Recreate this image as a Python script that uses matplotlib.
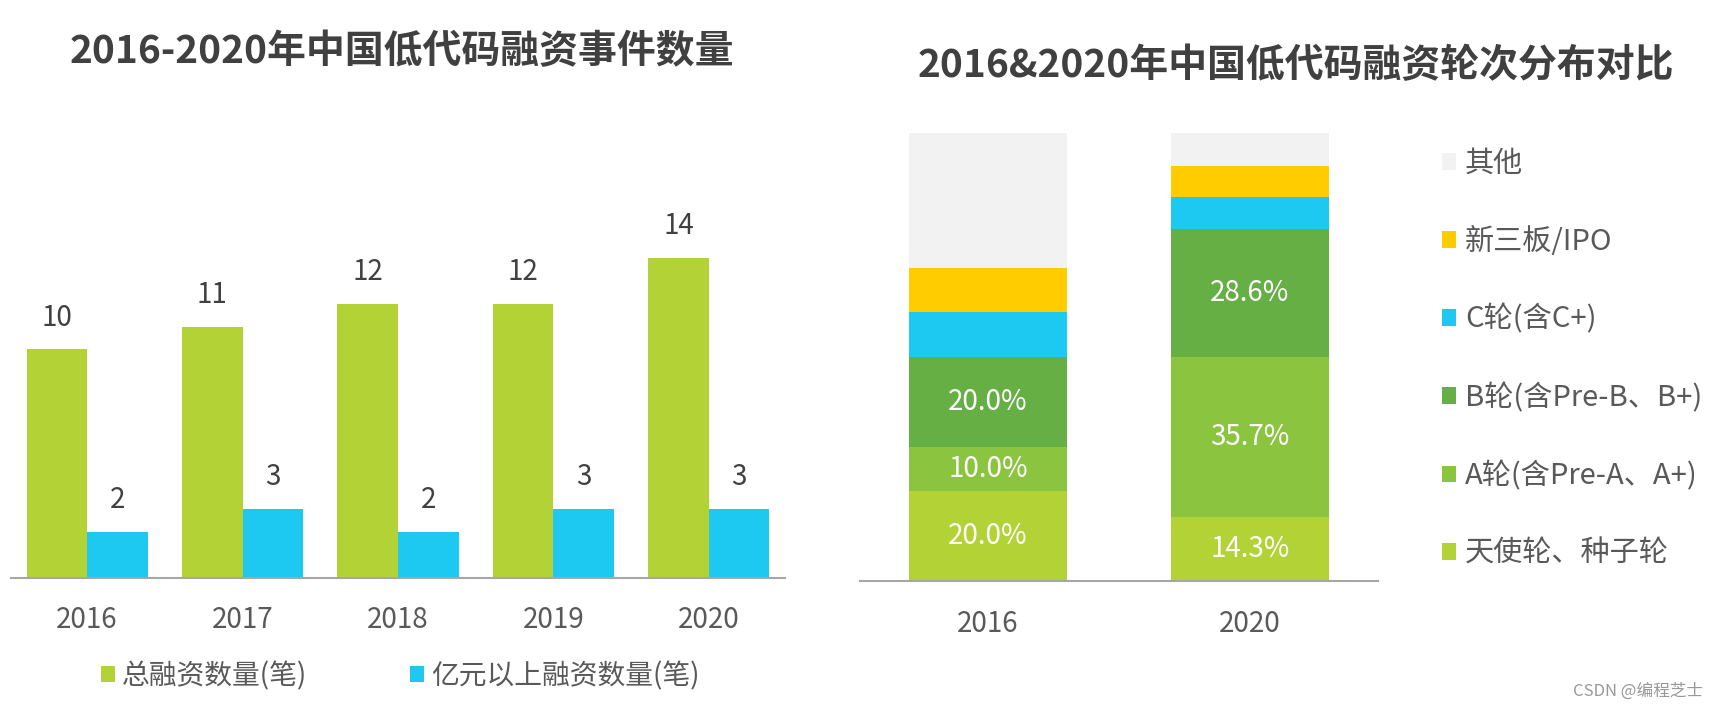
import matplotlib
matplotlib.use("Agg")
import matplotlib.pyplot as plt
import numpy as np

plt.rcParams['font.family'] = ['Noto Sans CJK SC', 'DejaVu Sans']

# 左图: 融资事件数量
years = ['2016', '2017', '2018', '2019', '2020']
total_deals = [10, 11, 12, 12, 14]
big_deals = [2, 3, 2, 3, 3]

# 右图: 轮次分布 (%)
round_years = ['2016', '2020']
round_names = ['天使轮、种子轮', 'A轮(含Pre-A、A+)', 'B轮(含Pre-B、B+)', 'C轮(含C+)', '新三板/IPO', '其他']
round_share = [
    [20.0, 14.3],
    [10.0, 35.7],
    [20.0, 28.6],
    [10.0, 7.1],
    [10.0, 7.1],
    [30.0, 7.2],
]
round_labeled = [True, True, True, False, False, False]

green = '#B3D235'
blue = '#1DC9F0'
round_colors = ['#B3D235', '#8BC53F', '#66AF45', '#1DC9F0', '#FFCC00', '#F2F2F2']
title_c = '#404040'
text_c = '#595959'
axis_c = '#A6A6A6'

W, H = 1728, 710
fig = plt.figure(figsize=(W / 100, H / 100), dpi=100)

# ---- left chart
ax1 = fig.add_axes([11 / W, (H - 577.5) / H, 774 / W, 18 * 22.8 / H])
x = np.arange(len(years))
bw = 0.39
b1 = ax1.bar(x - bw / 2, total_deals, bw, color=green, label='总融资数量(笔)')
b2 = ax1.bar(x + bw / 2, big_deals, bw, color=blue, label='亿元以上融资数量(笔)')
for bars, vals in [(b1, total_deals), (b2, big_deals)]:
    for r, v in zip(bars, vals):
        ax1.annotate(str(v), (r.get_x() + r.get_width() / 2, v), xytext=(0, 23),
                     textcoords='offset points', ha='center', va='center',
                     fontsize=20, color=title_c)
ax1.set_xlim(-0.49, 4.49)
ax1.set_ylim(0, 18)
ax1.set_xticks(x)
ax1.set_xticklabels(years, fontsize=20, color=text_c)
ax1.tick_params(axis='x', length=0, pad=20)
ax1.set_yticks([])
for s in ['left', 'right', 'top']:
    ax1.spines[s].set_visible(False)
ax1.spines['bottom'].set_color(axis_c)
ax1.spines['bottom'].set_linewidth(1.5)
fig.text(402 / W, 1 - 52 / H, '2016-2020年中国低代码融资事件数量', ha='center', va='center',
         fontsize=28, fontweight='bold', color=title_c)
fig.legend(handles=[b1, b2], loc='center left', bbox_to_anchor=(76 / W, 1 - 676 / H),
           ncol=2, frameon=False, fontsize=20, labelcolor=text_c,
           handlelength=0.5, handleheight=0.5, handletextpad=0.25, columnspacing=3.7)

# ---- right chart
ax2 = fig.add_axes([860 / W, (H - 581) / H, 518 / W, 447.7 / H])
xr = np.arange(len(round_years))
bottom = np.zeros(len(round_years))
handles = []
for name, vals, col, lab in zip(round_names, round_share, round_colors, round_labeled):
    bars = ax2.bar(xr, vals, 0.603, bottom=bottom, color=col, label=name)
    handles.append(bars)
    if lab:
        for r, v, b in zip(bars, vals, bottom):
            ax2.text(r.get_x() + r.get_width() / 2, b + v / 2, f'{v:.1f}%',
                     ha='center', va='center', fontsize=20, color='white')
    bottom += np.array(vals)
ax2.set_xlim(-0.489, 1.489)
ax2.set_ylim(0, 100)
ax2.set_xticks(xr)
ax2.set_xticklabels(round_years, fontsize=20, color=text_c)
ax2.tick_params(axis='x', length=0, pad=20)
ax2.set_yticks([])
for s in ['left', 'right', 'top']:
    ax2.spines[s].set_visible(False)
ax2.spines['bottom'].set_color(axis_c)
ax2.spines['bottom'].set_linewidth(1.5)
fig.text(1296 / W, 1 - 66 / H, '2016&2020年中国低代码融资轮次分布对比', ha='center', va='center',
         fontsize=28, fontweight='bold', color=title_c)
fig.legend(handles=handles[::-1], loc='upper left', bbox_to_anchor=(1430 / W, 1 - 137 / H),
           frameon=False, fontsize=21, labelcolor=text_c, labelspacing=1.645,
           handlelength=0.5, handleheight=0.5, handletextpad=0.3, borderaxespad=0)

fig.text(1703 / W, 1 - 691 / H, 'CSDN @编程芝士', ha='right', va='center',
         fontsize=12, color='#999999')

fig.savefig('out.png', dpi=100)
